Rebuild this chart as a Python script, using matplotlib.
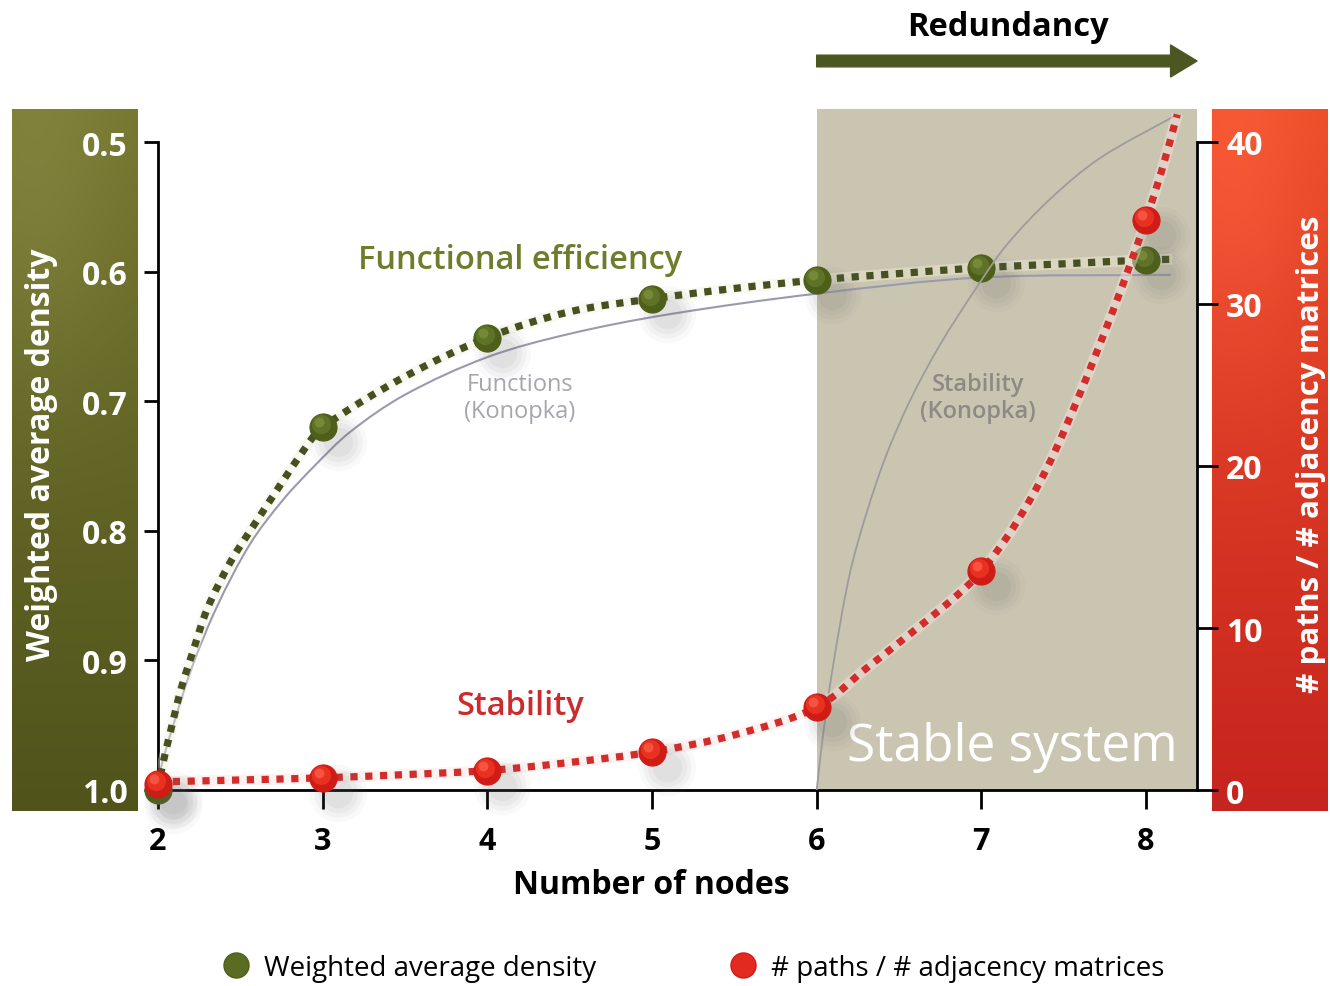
import numpy as np
import matplotlib
matplotlib.use('Agg')
from matplotlib import pyplot as plt
from matplotlib import transforms
from matplotlib.lines import Line2D
from matplotlib.path import Path
from matplotlib.patches import PathPatch

plt.rcParams['font.family'] = ['Open Sans', 'DejaVu Sans']

# measured points
nodes = [2, 3, 4, 5, 6, 7, 8]
density = [1.0, 0.72, 0.651, 0.621, 0.6065, 0.597, 0.591]
paths = [0.4, 0.74, 1.2, 2.35, 5.1, 13.5, 35.2]

# dotted trend lines
density_trend_x = [2.0, 2.022, 2.07, 2.14, 2.21, 2.3, 2.44, 2.56, 2.9, 3.0, 3.5, 4.0, 4.5, 5.0, 5.5, 6.0, 6.5, 7.0, 7.5, 8.0, 8.16]
density_trend_y = [1.0, 0.984, 0.958, 0.922, 0.894, 0.860, 0.824, 0.80, 0.735, 0.72, 0.681, 0.651, 0.631, 0.621, 0.613, 0.6065, 0.6015, 0.597, 0.594, 0.591, 0.5905]
paths_trend_x = [2.0, 2.5, 3.0, 3.5, 4.0, 4.5, 5.0, 5.5, 6.0, 6.3, 6.6, 6.85, 7.0, 7.2, 7.4, 7.6, 7.8, 7.92, 8.0, 8.1, 8.19]
paths_trend_y = [0.5, 0.62, 0.75, 0.95, 1.2, 1.7, 2.35, 3.4, 5.1, 7.5, 9.9, 12.0, 13.5, 16.3, 19.9, 24.5, 29.6, 32.9, 35.2, 38.4, 41.7]

# Konopka reference curves
func_konopka_x = [2.0, 2.012, 2.09, 2.21, 2.36, 2.56, 2.76, 2.95, 3.166, 3.5, 4.0, 4.5, 5.1, 6.0, 7.0, 8.15]
func_konopka_y = [1.0, 0.986, 0.951, 0.904, 0.858, 0.81, 0.776, 0.75, 0.7238, 0.695, 0.666, 0.648, 0.633, 0.617, 0.6045, 0.6025]
stab_konopka_x = [6.0, 6.04, 6.1, 6.2, 6.3, 6.42, 6.57, 6.75, 6.97, 7.15, 7.42, 7.72, 8.19]
stab_konopka_y = [0.0, 3.5, 7.7, 13.3, 17.0, 20.6, 24.1, 27.5, 31.0, 33.6, 36.5, 39.0, 41.7]

left_ticks = [0.5, 0.6, 0.7, 0.8, 0.9, 1.0]
left_labels = ['0.5', '0.6', '0.7', '0.8', '0.9', '1.0']
right_ticks = [0, 10, 20, 30, 40]

GREEN_DARK = '#465020'
RED_LINE = '#d42b2b'
BOX = '#cac5b1'

W, H = 1330, 987
fig = plt.figure(figsize=(W / 100, H / 100), dpi=100)


def fx(px):
    return px / W


def fy(py):
    return 1 - py / H


def panel(x0, x1, y0, y1, top, bottom):
    pax = fig.add_axes([fx(x0), fy(y1), fx(x1) - fx(x0), fy(y0) - fy(y1)])
    pax.set_axis_off()
    t = np.linspace(0, 1, 200)[:, None, None]
    img = np.array(top)[None, None, :] * (1 - t) + np.array(bottom)[None, None, :] * t
    img = np.repeat(img, 20, axis=1)
    yy, xx = np.mgrid[0:200, 0:20]
    hl = np.exp(-(((xx - 3) / 14.0) ** 2 + ((yy - 20) / 60.0) ** 2))[:, :, None]
    img = np.clip(img + hl * 14, 0, 255) / 255.0
    pax.imshow(img, aspect='auto', extent=[0, 1, 0, 1], interpolation='bilinear')
    return pax


panel(12, 138, 110, 812, (116, 117, 46), (80, 84, 27))
panel(1212, 1328, 110, 812, (234, 76, 40), (198, 36, 30))

ax = fig.add_axes([fx(158), fy(791), fx(1197) - fx(158), fy(110) - fy(791)])
ax2 = ax.twinx()

xmax = 2 + (1197 - 158) / ((1146 - 158) / 6)
ax.set_xlim(2, xmax)
ax.set_ylim(1.0, 0.5 - 33 / 1296)
ax2.set_ylim(0, 40 + 33 / 16.2)

ax.axvspan(6, xmax, color=BOX, zorder=0, lw=0)


def smooth(a, xs, ys):
    # Bezier path through the read points (chord-length Catmull-Rom)
    p = np.column_stack([xs, ys]).astype(float)
    d = a.transData.transform(p)
    seg = np.hypot(*np.diff(d, axis=0).T)
    n = len(p)
    tang = np.zeros_like(p)
    for i in range(n):
        lo, hi = max(i - 1, 0), min(i + 1, n - 1)
        span = sum(seg[lo:hi])
        tang[i] = (p[hi] - p[lo]) / span
    verts = [p[0]]
    codes = [Path.MOVETO]
    for i in range(n - 1):
        verts += [p[i] + tang[i] * seg[i] / 3, p[i + 1] - tang[i + 1] * seg[i] / 3, p[i + 1]]
        codes += [Path.CURVE4] * 3
    return Path(verts, codes)


def curve(a, xs, ys, **kw):
    a.add_patch(PathPatch(smooth(a, xs, ys), fill=False, **kw))


# Konopka curves
curve(ax, func_konopka_x, func_konopka_y, edgecolor='#9a9aae', lw=1.5, zorder=2)
curve(ax2, stab_konopka_x, stab_konopka_y, edgecolor='#9c9c9c', lw=1.3, zorder=2)

# dotted trends with light halo
curve(ax, density_trend_x, density_trend_y, edgecolor='#f4f1dc', lw=8, alpha=0.4, zorder=3, capstyle='butt')
curve(ax, density_trend_x, density_trend_y, edgecolor=GREEN_DARK, lw=5.2, ls=(0, (1, 1.05)),
      capstyle='butt', zorder=4)
curve(ax2, paths_trend_x, paths_trend_y, edgecolor='#f5e6e0', lw=8, alpha=0.45, zorder=3, capstyle='butt')
curve(ax2, paths_trend_x, paths_trend_y, edgecolor=RED_LINE, lw=5.2, ls=(0, (1, 1.05)),
      capstyle='butt', zorder=4)


def balls(a, xs, ys, base, mid, light):
    shadow = transforms.offset_copy(a.transData, fig=fig, x=15, y=-15, units='dots')
    for s, al in [(1700, 0.04), (1200, 0.05), (800, 0.06), (450, 0.07)]:
        a.scatter(xs, ys, s=s, color='#6a6a6a', alpha=al, lw=0, transform=shadow, zorder=5, clip_on=False)
    a.scatter(xs, ys, s=380, color=base, edgecolor=base, lw=0.8, zorder=6, clip_on=False)
    hi = transforms.offset_copy(a.transData, fig=fig, x=-2, y=3, units='dots')
    a.scatter(xs, ys, s=190, color=mid, lw=0, alpha=0.9, transform=hi, zorder=7, clip_on=False)
    hi2 = transforms.offset_copy(a.transData, fig=fig, x=-4, y=5, units='dots')
    a.scatter(xs, ys, s=50, color=light, lw=0, alpha=0.6, transform=hi2, zorder=8, clip_on=False)


balls(ax, nodes, density, '#4e5f19', '#62762a', '#869844')
balls(ax2, nodes, paths, '#d01c16', '#ec3424', '#ff6a55')

# axes styling
for s in ['top', 'right']:
    ax.spines[s].set_visible(False)
for s in ['top', 'left', 'bottom']:
    ax2.spines[s].set_visible(False)
ax.spines['left'].set_bounds(1.0, 0.5)
ax.spines['left'].set_linewidth(2)
ax.spines['bottom'].set_linewidth(2)
ax2.spines['right'].set_bounds(0, 40)
ax2.spines['right'].set_linewidth(2)

ax.set_yticks(left_ticks, left_labels, fontweight='bold')
ax.tick_params(axis='y', direction='out', length=10, width=2, pad=12, labelsize=23, labelcolor='white')
ax2.set_yticks(right_ticks, [str(v) for v in right_ticks], fontweight='bold')
ax2.tick_params(axis='y', direction='out', length=15, width=2, pad=6, labelsize=23, labelcolor='white')
ax.set_xticks(nodes, [str(n) for n in nodes], fontweight='bold')
ax.tick_params(axis='x', direction='out', length=14, width=2, pad=12, labelsize=22, labelcolor='black')

# labels
fig.text(fx(42), fy(455), 'Weighted average density', rotation=90, ha='center', va='center',
         color='white', fontsize=23, fontweight='bold')
fig.text(fx(1311), fy(454), '# paths / # adjacency matrices', rotation=90, ha='center', va='center',
         color='white', fontsize=22.6, fontweight='bold')
fig.text(fx(651), fy(886), 'Number of nodes', ha='center', va='center', fontsize=23, fontweight='bold')
fig.text(fx(1008), fy(27), 'Redundancy', ha='center', va='center', fontsize=23.5, fontweight='bold')

ax.text(4.198, 0.591, 'Functional efficiency', ha='center', va='center', color='#6e7d2c',
        fontsize=23.5, fontweight='semibold', zorder=9)
ax.text(4.198, 0.935, 'Stability', ha='center', va='center', color='#cc2a2c',
        fontsize=23.5, fontweight='semibold', zorder=9)
ax.text(4.198, 0.697, 'Functions\n(Konopka)', ha='center', va='center', color='#a6a6ae',
        fontsize=17, linespacing=1.15, zorder=9)
ax.text(6.98, 0.697, 'Stability\n(Konopka)', ha='center', va='center', color='#8c8a84',
        fontsize=17, fontweight='semibold', linespacing=1.15, zorder=9)
ax.text(7.186, 0.9668, 'Stable system', ha='center', va='center', color='white',
        fontsize=37, zorder=9)

# redundancy arrow
blend = transforms.blended_transform_factory(ax.transData, fig.transFigure)
ax.annotate('', xy=(xmax, fy(62)), xytext=(6, fy(62)), xycoords=blend, textcoords=blend,
            arrowprops=dict(arrowstyle='simple,head_length=0.95,head_width=1.15,tail_width=0.42',
                            mutation_scale=20, color='#4b5620', shrinkA=0, shrinkB=0),
            annotation_clip=False)

handles = [
    Line2D([], [], marker='o', ls='none', markersize=18, markerfacecolor='#5a6c22', markeredgecolor='#4e5f19'),
    Line2D([], [], marker='o', ls='none', markersize=18, markerfacecolor='#e42a20', markeredgecolor='#d01c16'),
]
fig.legend(handles, ['Weighted average density', '# paths / # adjacency matrices'], loc='center',
           bbox_to_anchor=(fx(693), fy(969)), ncol=2, frameon=False, fontsize=20,
           handlelength=1.0, handletextpad=0.5, columnspacing=4.8)

fig.savefig('out.png', dpi=100)
